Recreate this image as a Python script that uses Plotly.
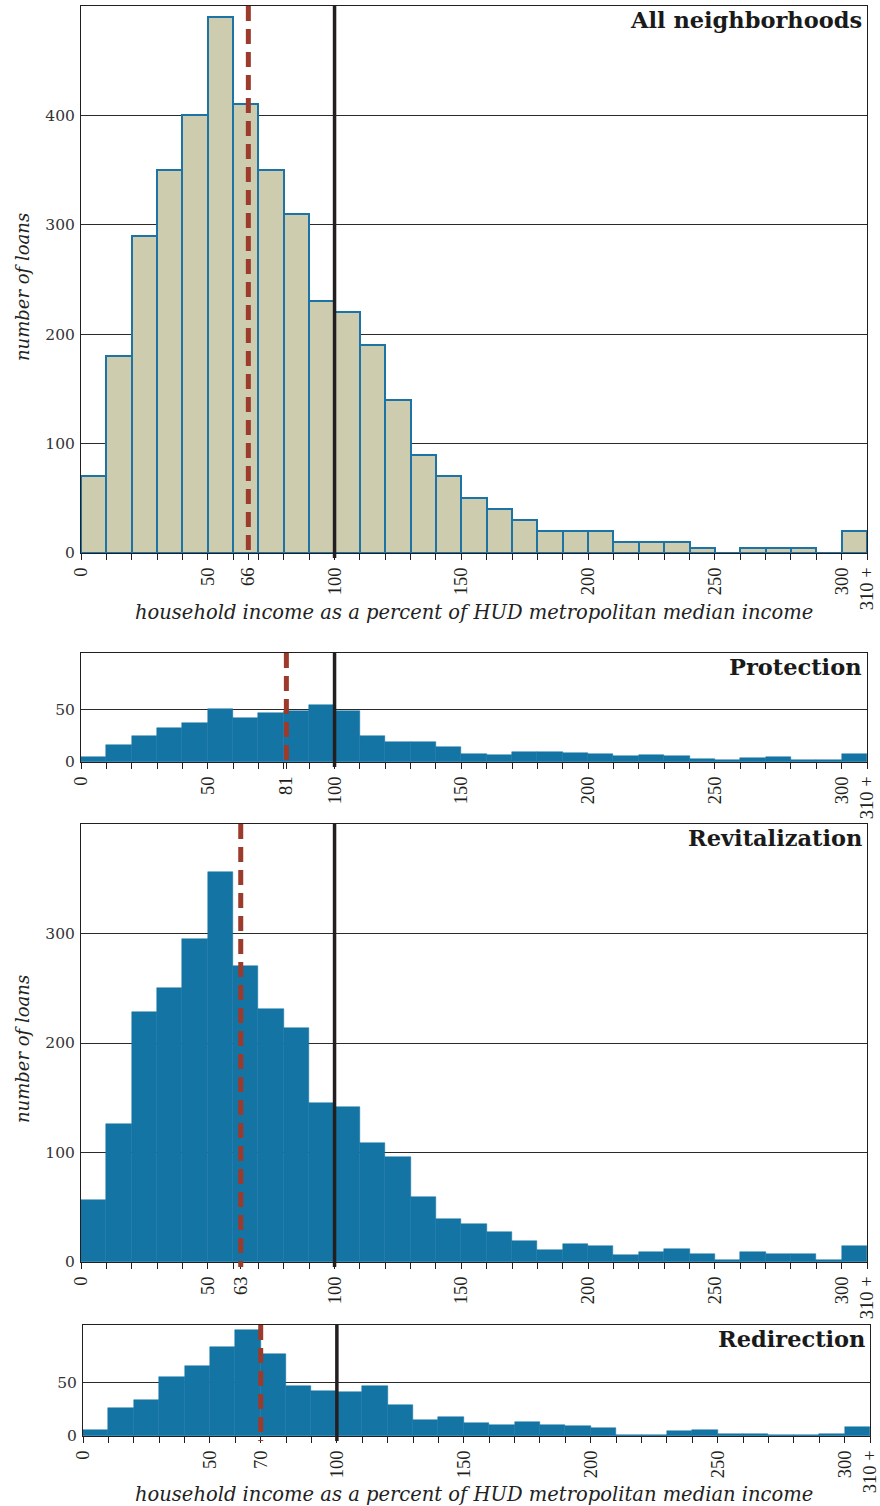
import plotly.graph_objects as go

# ---------------- data ----------------
bin_left = [0, 10, 20, 30, 40, 50, 60, 70, 80, 90, 100, 110, 120, 130, 140, 150,
            160, 170, 180, 190, 200, 210, 220, 230, 240, 250, 260, 270, 280, 290, 300]
bin_width = 10

all_neighborhoods = [70, 180, 290, 350, 400, 490, 410, 350, 310, 230, 220, 190, 140, 90, 70, 50,
                     40, 30, 20, 20, 20, 10, 10, 10, 5, 0, 5, 5, 5, 0, 20]
protection = [5, 16, 25, 32, 37, 51, 42, 47, 49, 54, 49, 25, 19, 19, 14, 8,
              7, 10, 10, 9, 8, 6, 7, 6, 2.5, 2, 4, 5, 1.6, 1.6, 8]
revitalization = [57, 126, 228, 250, 295, 356, 270, 231, 214, 145, 142, 109, 96, 59, 39, 35,
                  27, 19, 11, 16, 15, 6, 9, 12, 7, 1.5, 9, 7, 7, 1.5, 15]
redirection = [6, 26, 33, 55, 65, 83, 98, 76, 46, 42, 41, 46, 29, 15, 18, 12,
               10, 13, 10, 9, 7.5, 1.2, 1.2, 5, 5.6, 2.2, 2.2, 1, 1, 1.5, 8]

panel_names = ["All neighborhoods", "Protection", "Revitalization", "Redirection"]
medians = [66, 81, 63, 70]
reference_income = 100
y_max = [500, 104, 400, 103]
y_ticks = [[0, 100, 200, 300, 400], [0, 50], [0, 100, 200, 300], [0, 50]]
x_tick_base = [0, 50, 100, 150, 200, 250, 300, 310]
x_label_top = "310 +"
x_title = "household income as a percent of HUD metropolitan median income"
y_title = "number of loans"

# ---------------- layout geometry (pixels) ----------------
W, H = 880, 1506
panels_px = [  # (left, right, top, bottom)
    (81, 867, 6, 553),
    (81, 867, 653, 762),
    (81, 867, 824, 1262),
    (83, 870, 1325, 1436),
]

beige = "#cdccae"
blue_edge = "#1b74a5"
blue_fill = "#1475a5"
red = "#9c3b2b"
black = "#231f20"
serif = "DejaVu Serif"

series = [all_neighborhoods, protection, revitalization, redirection]
centers = [b + bin_width / 2 for b in bin_left]

fig = go.Figure()
layout = dict(
    width=W, height=H,
    margin=dict(l=0, r=0, t=0, b=0, autoexpand=False),
    paper_bgcolor="white", plot_bgcolor="white",
    showlegend=False, bargap=0,
)
shapes = []
annotations = []

for i, vals in enumerate(series):
    n = i + 1
    xa = "x" if n == 1 else f"x{n}"
    ya = "y" if n == 1 else f"y{n}"
    l, r, t, b = panels_px[i]
    if i == 0:
        marker = dict(color=beige, line=dict(color=blue_edge, width=2))
    else:
        marker = dict(color=blue_fill, line=dict(color=blue_fill, width=0.5))
    fig.add_trace(go.Bar(x=centers, y=vals, width=[bin_width] * len(vals),
                         marker=marker, xaxis=xa, yaxis=ya, hoverinfo="skip"))

    tv = sorted(x_tick_base + [medians[i]])
    tt = [x_label_top if v == 310 else str(v) for v in tv]
    layout["xaxis" if n == 1 else f"xaxis{n}"] = dict(
        domain=[l / W, r / W], anchor=ya, range=[0, 310], automargin=False,
        showgrid=False, zeroline=False,
        showline=True, mirror=True, linecolor=black, linewidth=1,
        ticks="outside", ticklen=6, tickwidth=1, tickcolor=black,
        tickvals=tv, ticktext=tt, tickangle=-90, ticklabeloverflow="allow",
        tickfont=dict(family="Liberation Serif", size=18.5, color=black),
        minor=dict(dtick=10, tick0=0, ticks="outside", ticklen=6, tickwidth=1,
                   tickcolor=black, showgrid=False),
        layer="below traces", fixedrange=True,
    )
    layout["yaxis" if n == 1 else f"yaxis{n}"] = dict(
        domain=[1 - b / H, 1 - t / H], anchor=xa, range=[0, y_max[i]], automargin=False,
        showgrid=True, gridcolor="#2a2a2a", gridwidth=1.2, zeroline=False,
        showline=True, mirror=True, linecolor=black, linewidth=1,
        ticks="", tickvals=y_ticks[i], ticklabelstandoff=2, ticklabeloverflow="allow",
        tickfont=dict(family=serif, size=15.5, color="#333"),
        fixedrange=True,
    )
    ext = -5 / (b - t)
    yref = f"{ya} domain"
    shapes.append(dict(type="line", xref=xa, yref=yref, x0=reference_income, x1=reference_income,
                       y0=ext, y1=1, line=dict(color=black, width=3.5), layer="above"))
    shapes.append(dict(type="line", xref=xa, yref=yref, x0=medians[i], x1=medians[i],
                       y0=1, y1=ext, line=dict(color=red, width=5, dash="15px,8px"), layer="above"))
    annotations.append(dict(text=f"<b>{panel_names[i]}</b>", xref=f"{xa} domain", yref=yref,
                            x=1, y=1, xanchor="right", yanchor="top", xshift=-3, yshift=1,
                            showarrow=False,
                            font=dict(family=serif, size=22.5, color="#1a1a1a")))

# axis titles
for ycen in (612, 1494):
    annotations.append(dict(text=f"<i>{x_title}</i>", xref="paper", yref="paper",
                            x=(81 + 867) / 2 / W, y=1 - ycen / H, xanchor="center", yanchor="middle",
                            showarrow=False, font=dict(family=serif, size=19.5, color="#222")))
for ycen in (287, 1049):
    annotations.append(dict(text=f"<i>{y_title}</i>", xref="paper", yref="paper",
                            x=22 / W, y=1 - ycen / H, xanchor="center", yanchor="middle",
                            textangle=-90, showarrow=False,
                            font=dict(family=serif, size=18, color="#222")))

layout["shapes"] = shapes
layout["annotations"] = annotations
fig.update_layout(**layout)
fig.write_html("out.html", config={"displayModeBar": False},
               post_script="document.body.style.margin='0';document.body.style.overflow='hidden';")
